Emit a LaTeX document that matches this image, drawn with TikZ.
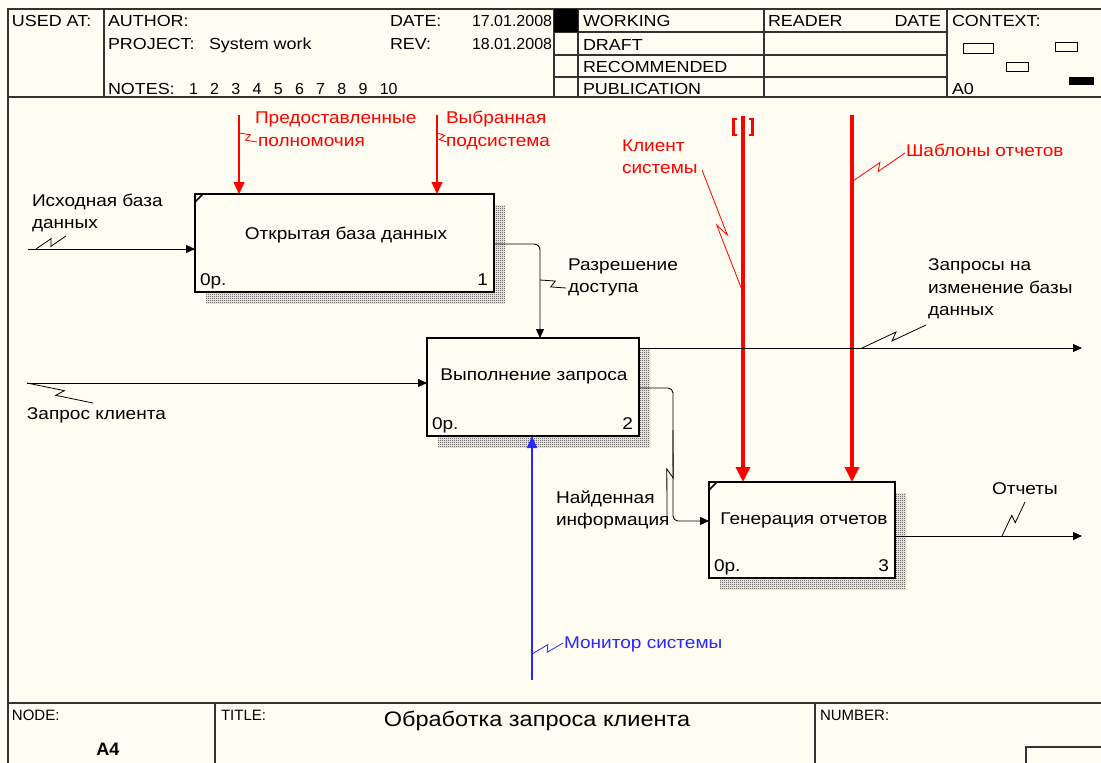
\documentclass[tikz,border=0pt]{standalone}
\usepackage{fontspec}
\setmainfont{Liberation Sans}[FakeStretch=1.12]
\newfontfamily\plainsans{Liberation Sans}
\usetikzlibrary{arrows.meta,calc,patterns}
\definecolor{paper}{RGB}{255,252,241}
\definecolor{idefred}{RGB}{255,0,0}
\definecolor{idefblue}{RGB}{40,40,255}
\pgfdeclarelayer{bg}
\pgfsetlayers{bg,main}
% one-pixel checkerboard used for the box shadows
\pgfdeclarepatternformonly{finecheck}{\pgfpointorigin}{\pgfpoint{2pt}{2pt}}{\pgfpoint{2pt}{2pt}}{%
  \pgfpathrectangle{\pgfpointorigin}{\pgfpoint{1pt}{1pt}}%
  \pgfpathrectangle{\pgfpoint{1pt}{1pt}}{\pgfpoint{1pt}{1pt}}%
  \pgfusepath{fill}}
% lightning-bolt squiggle tying an arrow label to its arrow
\newcommand\bolt[3][black]{\draw[#1,line width=0.8pt] (#2) -- ($(#2)!0.55!(#3)!3.5pt!90:(#3)$) -- ($(#2)!0.45!(#3)!3.5pt!-90:(#3)$) -- (#3);}
\begin{document}
\begin{tikzpicture}[x=1pt,y=-1pt,
  every node/.style={inner sep=0pt,outer sep=0pt},
  hdr/.style={anchor=base west,font=\fontsize{16}{18}\selectfont},
  hdrr/.style={anchor=base east,font=\fontsize{16}{18}\selectfont},
  digits/.style={anchor=base west,font=\plainsans\fontsize{16}{18}\selectfont},
  lbl/.style={anchor=base west,font=\fontsize{17}{19}\selectfont},
  lblr/.style={anchor=base east,font=\fontsize{17}{19}\selectfont},
  small/.style={anchor=base west,font=\plainsans\fontsize{15}{17}\selectfont},
  rule/.style={draw=black!80,line width=1.5pt},
  func/.style={draw=black,line width=2.6pt,fill=paper},
  shade/.style={pattern=finecheck,pattern color=black!85},
  flow/.style={draw=black,line width=0.9pt,-{Triangle[length=9pt,width=8pt]}},
  ctl/.style={draw=idefred,line width=1.4pt,-{Triangle[length=12pt,width=11pt]}},
  ctlbold/.style={draw=idefred,line width=3.6pt,-{Triangle[length=15pt,width=14pt]}},
  mech/.style={draw=idefblue,line width=1.4pt,-{Triangle[length=12pt,width=10pt]}},
  corner/.style={line width=1.6pt}]
\useasboundingbox (0,0) rectangle (1101,763);
\begin{pgfonlayer}{bg}
\fill[paper] (0,0) rectangle (1101,763);
\end{pgfonlayer}

% ---------- header frame ----------
\draw[rule] (8,763) -- (8,9) -- (1101,9);
\draw[rule] (8,97) -- (1101,97);
\draw[rule] (104,9) -- (104,97);
\draw[rule] (554,9) -- (554,97);
\draw[rule] (578,9) -- (578,97);
\draw[rule] (764,9) -- (764,97);
\draw[rule] (947,9) -- (947,97);
\foreach \yy in {32,55,77} \draw[rule] (554,\yy) -- (947,\yy);
\fill[black] (554,9) rectangle (578,32);

\node[hdr] (usedat) at (12,26) {USED AT:};
\node[hdr] (author) at (108,26) {AUTHOR:};
\node[hdr] (project) at (108,49) {PROJECT:};
\node[hdr] (projname) at (209,49) {System work};
\node[hdr] (notes) at (108,94) {NOTES:};
\foreach \i in {1,...,10} \node[digits] (note\i) at (189+21.2*\i-21.2,94) {\i};
\node[hdr] (datek) at (390,26) {DATE:};
\node[digits] (datev) at (472,26) {17.01.2008};
\node[hdr] (revk) at (390,49) {REV:};
\node[digits] (revv) at (472,49) {18.01.2008};
\node[hdr] (working) at (583,26) {WORKING};
\node[hdr] (draft) at (583,50) {DRAFT};
\node[hdr] (recom) at (583,72) {RECOMMENDED};
\node[hdr] (publ) at (583,94) {PUBLICATION};
\node[hdr] (reader) at (768,26) {READER};
\node[hdrr] (rdate) at (941,26) {DATE};
\node[hdr] (context) at (952,26) {CONTEXT:};
\node[hdr] (ctxnum) at (952,94) {A0};
\draw[line width=1pt] (963,43) rectangle (993,53);
\draw[line width=1pt] (1055,42) rectangle (1077,51);
\draw[line width=1pt] (1006,62) rectangle (1028,71);
\fill[black] (1069,77) rectangle (1094,85);

% ---------- footer frame ----------
\draw[rule] (8,703) -- (1101,703);
\draw[rule] (215,703) -- (215,763);
\draw[rule] (815,703) -- (815,763);
\draw[rule] (1026,763) -- (1026,747) -- (1101,747);
\node[small] (nodek) at (12,720) {NODE:};
\node[anchor=base,font=\plainsans\bfseries\fontsize{18}{20}\selectfont] (nodev) at (108,755) {A4};
\node[small] (titlek) at (221,720) {TITLE:};
\node[anchor=base,font=\fontsize{21}{23}\selectfont] (titlev) at (537,726) {Обработка запроса клиента};
\node[small] (numberk) at (820,720) {NUMBER:};

% ---------- activity boxes ----------
\node[func,minimum width=299pt,minimum height=98pt] (b1) at (344.5,243) {};
\node[func,minimum width=212pt,minimum height=98pt] (b2) at (533,387) {};
\node[func,minimum width=186pt,minimum height=96pt] (b3) at (802,530) {};
\begin{pgfonlayer}{bg}
\foreach \b in {b1,b2,b3}
  \fill[shade] ([shift={(11,11)}]\b.south west) rectangle ([shift={(11,11)}]\b.north east);
\end{pgfonlayer}
\draw[corner] ([shift={(0,8)}]b1.north west) -- ([shift={(8,0)}]b1.north west);
\draw[corner] ([shift={(0,8)}]b3.north west) -- ([shift={(8,0)}]b3.north west);

\node[lbl,anchor=base] (t1) at (346,239) {Открытая база данных};
\node[lbl,anchor=base] (t2) at (534,380) {Выполнение запроса};
\node[lbl,anchor=base] (t3) at (804,524) {Генерация отчетов};
\node[lbl] (c1) at ([shift={(5,-7)}]b1.south west) {0р.};
\node[lblr] (n1) at ([shift={(-6,-7)}]b1.south east) {1};
\node[lbl] (c2) at ([shift={(5,-7)}]b2.south west) {0р.};
\node[lblr] (n2) at ([shift={(-6,-7)}]b2.south east) {2};
\node[lbl] (c3) at ([shift={(5,-7)}]b3.south west) {0р.};
\node[lblr] (n3) at ([shift={(-6,-7)}]b3.south east) {3};

% ---------- inputs ----------
\coordinate (inA) at (28,249);
\draw[flow] (inA) -- (inA -| b1.west);
\node[lbl] (inAl1) at (32,206) {Исходная база};
\node[lbl] (inAl2) at (32,228) {данных};
\coordinate (inAs) at (36,249); \coordinate (inAe) at (66,236);
\bolt{inAs}{inAe}

\coordinate (inB) at (27,383);
\draw[flow] (inB) -- (inB -| b2.west);
\node[lbl] (inBl) at (27,419) {Запрос клиента};
\coordinate (inBe) at (93,403);
\bolt{inB}{inBe}

% ---------- controls ----------
\coordinate (ctA) at (239,115);
\draw[ctl] (ctA) -- (ctA |- b1.north);
\node[lbl,text=idefred] (ctAl1) at (255,123) {Предоставленные};
\node[lbl,text=idefred] (ctAl2) at (258,146) {полномочия};
\coordinate (ctAs) at (239,133); \coordinate (ctAe) at (257,142);
\bolt[idefred]{ctAs}{ctAe}

\coordinate (ctB) at (437,115);
\draw[ctl] (ctB) -- (ctB |- b1.north);
\node[lbl,text=idefred] (ctBl1) at (446,123) {Выбранная};
\node[lbl,text=idefred] (ctBl2) at (446,146) {подсистема};
\coordinate (ctBs) at (437,133); \coordinate (ctBe) at (447,142);
\bolt[idefred]{ctBs}{ctBe}

\coordinate (ctC) at (743,116);
\draw[ctlbold] (ctC) -- (ctC |- b3.north);
\draw[idefred,line width=2.6pt] (737,119) -- (733.5,119) -- (733.5,135) -- (737,135);
\draw[idefred,line width=2.6pt] (749,119) -- (752.5,119) -- (752.5,135) -- (749,135);
\node[lbl,text=idefred] (ctCl1) at (622,151) {Клиент};
\node[lbl,text=idefred] (ctCl2) at (622,173) {системы};
\coordinate (ctCs) at (742,290); \coordinate (ctCe) at (702,170);
\bolt[idefred]{ctCs}{ctCe}

\coordinate (ctD) at (852,115);
\draw[ctlbold] (ctD) -- (ctD |- b3.north);
\node[lbl,text=idefred] (ctDl) at (906,156) {Шаблоны отчетов};
\coordinate (ctDs) at (853,181); \coordinate (ctDe) at (905,153);
\bolt[idefred]{ctDs}{ctDe}

% ---------- mechanism ----------
\coordinate (mA) at (532,680);
\draw[mech] (mA) -- (mA |- b2.south);
\node[lbl,text=idefblue] (mAl) at (564,648) {Монитор системы};
\coordinate (mAs) at (532,654); \coordinate (mAe) at (563,643);
\bolt[idefblue]{mAs}{mAe}

% ---------- outputs ----------
\coordinate (oA) at (540,244);
\draw[flow,rounded corners=6pt] (b1.east |- oA) -- (oA) -- (oA |- b2.north);
\node[lbl] (oAl1) at (568,270) {Разрешение};
\node[lbl] (oAl2) at (568,292) {доступа};
\coordinate (oAs) at (540,280); \coordinate (oAe) at (566,288);
\bolt{oAs}{oAe}

\coordinate (oB) at (1082,348);
\draw[flow] (b2.east |- oB) -- (oB);
\node[lbl] (oBl1) at (928,270) {Запросы на};
\node[lbl] (oBl2) at (928,293) {изменение базы};
\node[lbl] (oBl3) at (928,315) {данных};
\coordinate (oBs) at (862,348); \coordinate (oBe) at (926,325);
\bolt{oBs}{oBe}

\coordinate (oCa) at (673,388); \coordinate (oCb) at (673,521);
\draw[flow,rounded corners=5pt] (b2.east |- oCa) -- (oCa) -- (oCb) -- (oCb -| b3.west);
\node[lbl] (oCl1) at (556,503) {Найденная};
\node[lbl] (oCl2) at (556,525) {информация};
\coordinate (oCs) at (673,430); \coordinate (oCe) at (667,517);
\bolt{oCs}{oCe}

\coordinate (oD) at (1082,536);
\draw[flow] (b3.east |- oD) -- (oD);
\node[lbl] (oDl) at (992,494) {Отчеты};
\coordinate (oDs) at (1002,536); \coordinate (oDe) at (1025,502);
\bolt{oDs}{oDe}
\end{tikzpicture}
\end{document}
